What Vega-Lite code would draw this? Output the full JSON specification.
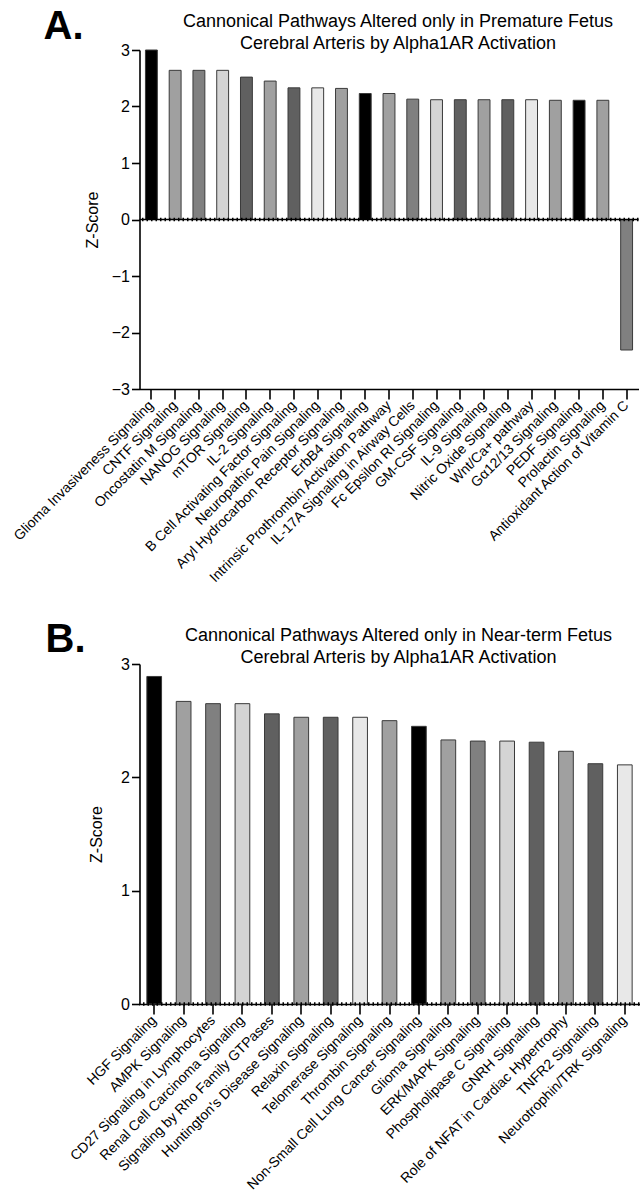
{
  "$schema": "https://vega.github.io/schema/vega-lite/v6.json",
  "padding": {"left": 10.5, "top": 7, "right": 0, "bottom": 0},
  "background": "white",
  "bounds": "flush",
  "spacing": 614,
  "config": {
    "view": {"stroke": null},
    "font": "Liberation Sans",
    "title": {"font": "Liberation Sans", "color": "#000"},
    "axis": {
      "labelFont": "Liberation Sans",
      "titleFont": "Liberation Sans",
      "labelColor": "#000",
      "titleColor": "#000",
      "domainColor": "#000",
      "tickColor": "#000",
      "domainWidth": 1.6,
      "tickWidth": 1.6,
      "grid": false
    }
  },
  "resolve": {"scale": {"color": "independent", "x": "independent", "y": "independent"}},
  "vconcat": [
    {
      "title": {"text": "A.", "anchor": "start", "frame": "group", "fontSize": 40, "fontWeight": "bold", "dx": -96, "dy": 38},
      "bounds": "flush",
      "vconcat": [
        {
          "width": 499,
          "height": 339,
          "title": {"text": ["Cannonical Pathways Altered only in Premature Fetus", "Cerebral Arteris by Alpha1AR Activation"], "fontSize": 18, "fontWeight": "normal", "anchor": "middle", "offset": -11, "dx": 9, "lineHeight": 22},
          "layer": [
            {
              "data": {"values": [
                {"pathway": "Glioma Invasiveness Signaling", "zscore": 3.0},
                {"pathway": "CNTF Signaling", "zscore": 2.64},
                {"pathway": "Oncostatin M Signaling", "zscore": 2.64},
                {"pathway": "NANOG Signaling", "zscore": 2.64},
                {"pathway": "mTOR Signaling", "zscore": 2.52},
                {"pathway": "IL-2 Signaling", "zscore": 2.45},
                {"pathway": "B Cell Activating Factor Signaling", "zscore": 2.33},
                {"pathway": "Neuropathic Pain Signaling", "zscore": 2.33},
                {"pathway": "Aryl Hydrocarbon Receptor Signaling", "zscore": 2.32},
                {"pathway": "ErbB4 Signaling", "zscore": 2.23},
                {"pathway": "Intrinsic Prothrombin Activation Pathway", "zscore": 2.23},
                {"pathway": "IL-17A Signaling in Airway Cells", "zscore": 2.13},
                {"pathway": "Fc Epsilon RI Signaling", "zscore": 2.12},
                {"pathway": "GM-CSF Signaling", "zscore": 2.12},
                {"pathway": "IL-9 Signaling", "zscore": 2.12},
                {"pathway": "Nitric Oxide Signaling", "zscore": 2.12},
                {"pathway": "Wnt/Ca+ pathway", "zscore": 2.12},
                {"pathway": "Gα12/13 Signaling", "zscore": 2.11},
                {"pathway": "PEDF Signaling", "zscore": 2.11},
                {"pathway": "Prolactin Signaling", "zscore": 2.11},
                {"pathway": "Antioxidant Action of Vitamin C", "zscore": -2.31}
              ]},
              "mark": {"type": "bar", "stroke": "#3a3a3a", "strokeWidth": 1},
              "encoding": {
                "x": {"field": "pathway", "type": "nominal", "sort": null,
                  "scale": {"paddingInner": 0.5, "paddingOuter": 0.25},
                  "axis": {"title": null, "labelAngle": -45, "labelAlign": "right", "labelBaseline": "middle", "labelFontSize": 14, "tickSize": 10, "labelPadding": 4, "labelLimit": 400}},
                "y": {"field": "zscore", "type": "quantitative",
                  "scale": {"domain": [-3, 3], "nice": false},
                  "axis": {"values": [-3, -2, -1, 0, 1, 2, 3], "format": "d", "title": "Z-Score", "titleFontSize": 16, "titleFontWeight": "normal", "titlePadding": 11, "labelFontSize": 16, "tickSize": 8, "labelPadding": 2}},
                "color": {"field": "pathway", "type": "nominal", "sort": null, "legend": null,
                  "scale": {"range": ["#000000", "#a0a0a0", "#808080", "#d4d4d4", "#606060", "#a0a0a0", "#606060", "#e8e8e8", "#a0a0a0"]}}
              }
            },
            {
              "data": {"values": [{"zero": 0}]},
              "mark": {"type": "rule", "color": "#000", "strokeWidth": 3.5, "strokeDash": [1.5, 3]},
              "encoding": {"y": {"field": "zero", "type": "quantitative"}}
            },
            {
              "data": {"values": [{"zero": 0}]},
              "mark": {"type": "rule", "color": "#000", "strokeWidth": 1.5},
              "encoding": {"y": {"field": "zero", "type": "quantitative"}}
            }
          ]
        }
      ]
    },
    {
      "title": {"text": "B.", "anchor": "start", "frame": "group", "fontSize": 40, "fontWeight": "bold", "dx": -94, "dy": 37},
      "bounds": "flush",
      "vconcat": [
        {
          "width": 500,
          "height": 340,
          "title": {"text": ["Cannonical Pathways Altered only in Near-term Fetus", "Cerebral Arteris by Alpha1AR Activation"], "fontSize": 18, "fontWeight": "normal", "anchor": "middle", "offset": -11, "dx": 9, "lineHeight": 22},
          "layer": [
            {
              "data": {"values": [
                {"pathway": "HGF Signaling", "zscore": 2.89},
                {"pathway": "AMPK Signaling", "zscore": 2.67},
                {"pathway": "CD27 Signaling in Lymphocytes", "zscore": 2.65},
                {"pathway": "Renal Cell Carcinoma Signaling", "zscore": 2.65},
                {"pathway": "Signaling by Rho Family GTPases", "zscore": 2.56},
                {"pathway": "Huntington's Disease Signaling", "zscore": 2.53},
                {"pathway": "Relaxin Signaling", "zscore": 2.53},
                {"pathway": "Telomerase Signaling", "zscore": 2.53},
                {"pathway": "Thrombin Signaling", "zscore": 2.5},
                {"pathway": "Non-Small Cell Lung Cancer Signaling", "zscore": 2.45},
                {"pathway": "Glioma Signaling", "zscore": 2.33},
                {"pathway": "ERK/MAPK Signaling", "zscore": 2.32},
                {"pathway": "Phospholipase C Signaling", "zscore": 2.32},
                {"pathway": "GNRH Signaling", "zscore": 2.31},
                {"pathway": "Role of NFAT in Cardiac Hypertrophy", "zscore": 2.23},
                {"pathway": "TNFR2 Signaling", "zscore": 2.12},
                {"pathway": "Neurotrophin/TRK Signaling", "zscore": 2.11}
              ]},
              "mark": {"type": "bar", "stroke": "#3a3a3a", "strokeWidth": 1},
              "encoding": {
                "x": {"field": "pathway", "type": "nominal", "sort": null,
                  "scale": {"paddingInner": 0.5, "paddingOuter": 0.25},
                  "axis": {"title": null, "labelAngle": -45, "labelAlign": "right", "labelBaseline": "middle", "labelFontSize": 14, "tickSize": 10, "labelPadding": 4, "labelLimit": 400}},
                "y": {"field": "zscore", "type": "quantitative",
                  "scale": {"domain": [0, 3], "nice": false},
                  "axis": {"values": [0, 1, 2, 3], "format": "d", "title": "Z-Score", "titleFontSize": 16, "titleFontWeight": "normal", "titlePadding": 16, "labelFontSize": 16, "tickSize": 8, "labelPadding": 2}},
                "color": {"field": "pathway", "type": "nominal", "sort": null, "legend": null,
                  "scale": {"range": ["#000000", "#a0a0a0", "#808080", "#d4d4d4", "#606060", "#a0a0a0", "#606060", "#e8e8e8", "#a0a0a0"]}}
              }
            },
            {
              "data": {"values": [{"zero": 0}]},
              "mark": {"type": "rule", "color": "#000", "strokeWidth": 3.5, "strokeDash": [1.5, 3]},
              "encoding": {"y": {"field": "zero", "type": "quantitative"}}
            }
          ]
        }
      ]
    }
  ]
}
